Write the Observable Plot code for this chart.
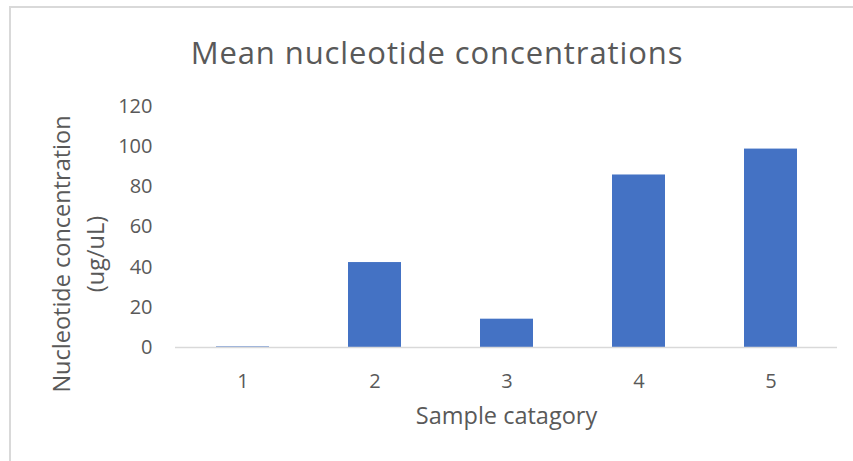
<!DOCTYPE html>
<html>
<head>
<meta charset="utf-8">
<script src="https://cdn.jsdelivr.net/npm/d3@7"></script>
<script src="https://cdn.jsdelivr.net/npm/@observablehq/plot@0.6"></script>
<style>
  html, body { margin: 0; padding: 0; background: #fff; }
  #chart { position: relative; width: 853px; height: 461px; overflow: hidden; font-family: "Open Sans", sans-serif; }
  #frame { position: absolute; left: 9px; top: 6px; right: -2px; bottom: -2px;
           border-top: 2px solid #d9d9d9; border-left: 2px solid #d9d9d9; }
  #title { position: absolute; left: 0; width: 874px; top: 32px; text-align: center;
           font-size: 31px; letter-spacing: 0.9px; color: #595959; line-height: 40px; }
  #plot { position: absolute; left: 0; top: 0; }
</style>
</head>
<body>
<div id="chart">
  <div id="frame"></div>
  <div id="title">Mean nucleotide concentrations</div>
  <div id="plot"></div>
</div>
<script>
// Mean concentration per sample category
const categories = ["1", "2", "3", "4", "5"];
const concentrations = [0.3, 42.3, 14.1, 85.9, 98.8];
const yTicks = [0, 20, 40, 60, 80, 100, 120];

const rows = categories.map((c, i) => ({category: c, value: concentrations[i]}));

const textColor = "#595959";

const svg = Plot.plot({
  width: 853,
  height: 461,
  marginLeft: 175,
  marginRight: 16,
  marginTop: 106,
  marginBottom: 114,
  style: {fontFamily: "'Open Sans', sans-serif", fontSize: "20px", color: textColor, background: "transparent"},
  x: {domain: categories, paddingInner: 0.6, paddingOuter: 0.3, label: null},
  y: {domain: [0, 120], label: null},
  marks: [
    Plot.barY(rows, {x: "category", y: "value", fill: "#4472C4"}),
    Plot.ruleY([0], {stroke: "#d9d9d9", strokeWidth: 1.5}),
    Plot.axisY(yTicks, {tickSize: 0, tickPadding: 23, fontSize: 20, fill: textColor, label: null}),
    Plot.axisX({tickSize: 0, tickPadding: 26, fontSize: 20, fill: textColor, label: null}),
    Plot.text(["Nucleotide concentration\n(ug/uL)"], {
      frameAnchor: "left", dx: -99, dy: 27, rotate: -90, lineAnchor: "middle",
      textAnchor: "middle", fontSize: 23.5, fill: textColor, lineHeight: 1.45
    }),
    Plot.text(["Sample catagory"], {
      frameAnchor: "bottom", dy: 69, lineAnchor: "middle",
      textAnchor: "middle", fontSize: 23.5, fill: textColor
    })
  ]
});
document.getElementById("plot").appendChild(svg);
</script>
</body>
</html>
